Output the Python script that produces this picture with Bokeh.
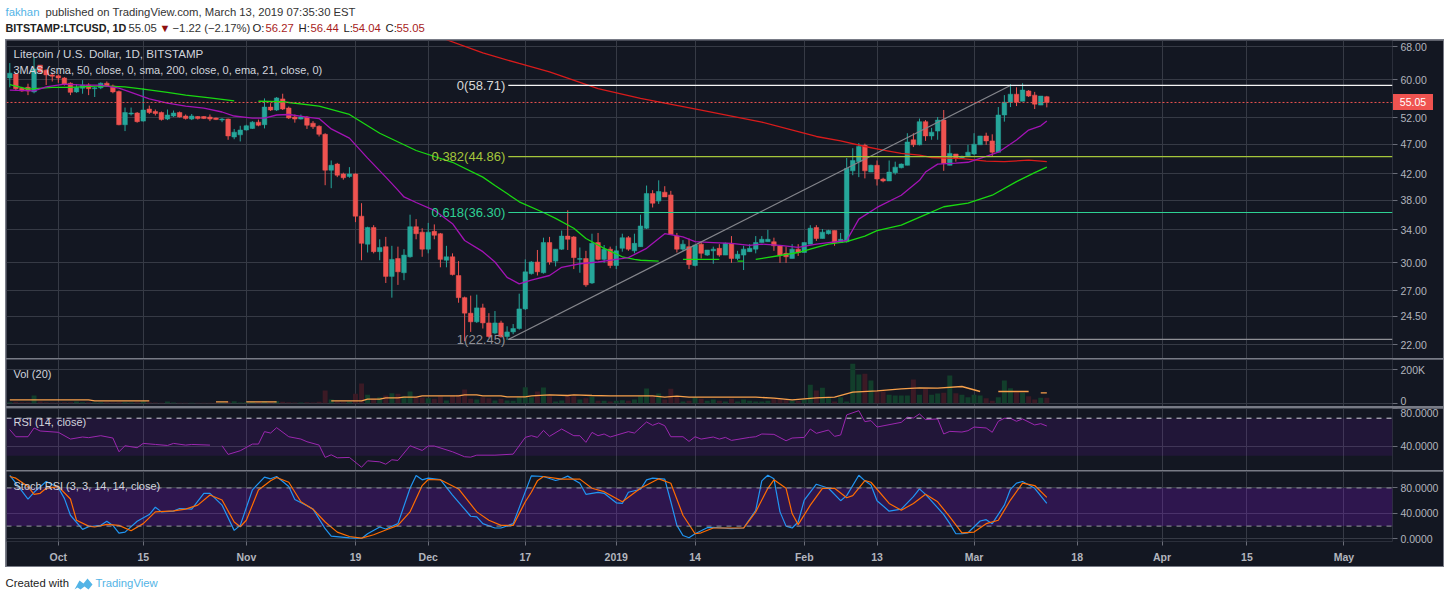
from bokeh.plotting import figure
from bokeh.models import (ColumnDataSource, Range1d, FixedTicker, NumeralTickFormatter, Label, Span,
                          BoxAnnotation, Column, Div)
from bokeh.embed import file_html
from bokeh.resources import INLINE

nan = float("nan")

# ---- daily candles, index 0 = 23 Sep 2018, index 171 = 13 Mar 2019
opens = [60.4,61.3,58.1,58.3,57.3,63.4,62.2,61.1,60.9,60.4,59.2,57.3,58.1,58.8,58.0,58.2,59.2,58.6,57.4,50.6,
         52.7,52.9,51.3,53.7,53.2,53.0,51.7,52.3,53.0,52.3,51.7,52.2,52.2,52.1,51.9,51.5,51.7,48.3,48.7,49.6,
         49.9,51.1,50.6,54.1,53.5,55.8,53.9,52.1,51.7,52.1,50.9,50.3,48.8,42.6,43.6,42.0,41.6,42.0,35.8,32.2,
         34.3,31.3,31.9,28.5,30.5,28.9,30.7,34.4,33.7,31.6,33.8,33.5,30.3,30.7,28.6,26.3,24.8,24.0,25.3,23.9,
         23.0,23.9,22.7,23.1,23.4,25.2,28.8,30.1,28.9,32.4,30.2,31.6,33.2,33.1,30.4,30.5,27.8,32.4,30.4,31.6,
         29.7,31.7,33.0,31.4,31.9,34.2,39.0,37.9,39.2,38.8,33.2,31.6,31.9,29.7,32.2,30.9,31.4,31.7,30.9,32.3,
         30.5,30.9,31.3,31.6,32.4,32.5,32.5,32.0,31.1,30.5,31.6,31.2,32.2,34.3,32.9,33.5,33.9,32.4,32.5,42.5,
         44.0,46.8,42.3,43.4,41.2,40.9,42.2,43.0,43.4,47.8,46.9,51.2,48.5,49.4,51.5,43.4,45.3,44.6,45.0,45.3,
         46.9,48.5,47.6,45.6,52.5,55.1,56.8,55.3,57.5,56.6,54.5,56.27]
highs = [63.9,61.5,58.4,59.1,65.4,63.4,62.4,61.6,61.2,60.6,59.4,59.0,59.9,59.2,58.4,59.4,59.6,58.9,57.6,54.0,
         54.0,53.1,58.1,54.4,53.6,53.2,53.6,53.4,53.2,52.6,52.7,52.3,52.3,52.6,52.0,51.9,51.8,49.8,50.4,50.6,
         51.3,51.6,55.9,54.9,56.2,56.9,54.2,52.6,52.6,52.3,51.3,50.5,49.0,44.2,43.8,42.2,43.1,42.1,37.6,34.4,
         34.6,32.8,33.1,32.0,31.9,31.6,36.0,35.4,34.2,34.9,34.7,33.6,32.0,31.1,30.2,26.4,26.5,26.6,25.7,24.8,
         25.0,24.1,23.6,23.8,26.7,30.4,30.2,31.5,33.0,33.1,31.6,33.9,36.6,33.2,31.8,31.4,33.5,33.6,32.1,31.9,
         32.0,33.5,33.2,33.5,36.0,40.2,39.5,41.0,40.1,39.4,33.6,32.7,32.9,32.1,32.5,31.5,31.9,32.2,32.4,33.2,
         31.4,32.0,32.2,33.2,33.2,34.0,33.0,32.0,31.9,32.2,32.2,32.4,34.6,34.6,34.1,34.0,33.9,33.6,44.6,46.3,
         47.2,47.1,43.5,44.2,41.4,44.2,44.0,43.7,49.0,49.0,51.8,51.5,50.0,52.1,53.5,46.9,45.3,45.0,46.9,49.0,
         48.5,49.1,48.8,54.1,56.6,59.0,58.3,59.2,57.7,57.3,56.4,56.44]
lows = [58.3,57.6,57.3,56.6,57.0,61.6,58.8,59.6,59.3,58.7,56.6,57.1,56.9,56.6,56.2,57.9,58.4,57.0,50.5,49.4,
        52.4,51.0,51.2,52.7,52.4,51.4,51.5,52.1,52.0,51.6,51.5,51.6,51.7,51.3,51.5,51.1,47.8,47.9,47.5,49.5,
        49.8,50.3,49.9,53.3,53.3,53.5,51.7,51.0,51.6,49.8,49.8,48.4,40.25,39.8,41.5,41.1,41.4,35.0,30.3,31.2,
        31.1,30.3,27.8,26.3,27.6,28.1,30.6,32.8,30.7,31.1,32.8,29.5,29.5,28.6,25.8,22.3,23.1,23.9,23.4,22.6,
        22.9,22.6,22.4,22.9,23.3,25.1,28.7,28.6,28.8,29.8,29.6,31.5,31.5,29.3,28.9,27.4,27.7,30.3,30.0,29.4,
        29.3,31.3,31.4,31.1,31.9,34.1,37.0,37.5,38.5,33.4,31.2,31.4,29.3,29.6,30.5,30.8,29.9,30.7,30.9,30.0,
        30.3,29.2,31.3,31.1,32.4,32.5,31.4,30.0,30.0,30.5,30.8,31.2,32.2,32.6,32.9,33.4,32.0,32.4,32.4,41.8,
        41.5,41.3,42.3,40.2,40.7,40.9,41.9,42.9,43.4,46.5,46.8,47.6,47.8,47.8,42.5,43.4,44.0,44.5,44.8,45.1,
        46.9,46.9,44.8,45.6,51.2,54.1,54.3,55.3,56.2,53.7,54.5,54.04]
closes = [61.5,58.0,57.5,57.5,62.5,61.8,61.1,60.8,60.4,59.0,57.2,58.3,58.8,58.0,58.2,59.2,58.6,57.3,50.6,53.0,
          52.9,51.2,53.5,53.0,52.8,51.6,52.5,52.9,52.1,51.8,52.3,51.8,51.8,51.7,51.6,51.7,48.5,49.2,49.6,50.4,
          51.1,50.5,54.1,53.5,56.0,53.7,51.9,51.7,52.1,50.5,50.2,48.8,42.6,43.4,41.8,41.4,42.0,35.8,32.3,34.3,
          31.3,31.8,28.5,30.4,29.0,30.9,34.4,33.5,31.6,33.7,33.3,30.4,30.7,28.7,26.3,24.8,24.0,25.3,23.9,22.7,
          23.9,22.7,23.1,23.4,25.2,29.0,30.1,29.0,32.4,30.1,31.6,33.2,32.8,30.6,30.5,27.6,32.3,30.4,31.6,29.7,
          31.4,33.0,31.6,32.3,34.5,39.0,37.6,39.3,38.5,33.4,31.6,32.2,29.8,32.1,31.1,31.5,31.6,30.9,32.3,30.5,
          31.0,31.6,31.7,32.4,32.8,32.8,32.0,30.9,30.7,31.6,31.2,32.4,34.2,32.9,33.7,33.9,32.4,32.8,42.9,44.2,
          46.6,42.5,43.4,41.2,40.9,42.3,43.1,43.6,47.4,46.9,51.2,48.5,49.2,51.5,43.7,45.4,44.6,44.9,45.6,47.0,
          48.5,47.6,45.6,52.5,55.1,56.8,55.1,57.7,56.4,54.7,56.4,55.05]
volumes_k = [6,8,6,6,46,10,6,4,4,5,6,10,6,5,4,6,5,4,6,5,4,5,12,5,4,3,10,4,3,3,3,3,3,2,3,4,10,12,4,6,8,4,12,4,12,8,5,4,4,5,4,8,
             76,22,10,6,10,56,118,50,26,36,46,60,56,42,70,36,34,30,26,42,16,46,50,82,26,22,36,30,16,26,16,14,36,96,
             36,70,94,42,10,16,50,42,22,30,38,14,14,10,14,18,14,22,42,88,42,58,22,86,42,10,14,36,26,14,22,14,10,26,
             10,22,14,10,10,14,26,30,22,14,14,22,110,76,92,36,10,36,10,236,172,176,136,70,70,50,46,46,46,142,50,86,50,58,62,166,
             60,50,36,50,46,30,14,36,136,90,66,62,42,22,32,32,8]

# ---- moving averages, read at selected days
ema_days = [0,4,6,9,12,15,18,20,23,26,29,32,35,37,40,42,44,46,49,51,53,56,59,62,64,65,67,70,73,75,78,80,82,84,86,89,91,94,97,100,
            102,105,108,111,113,116,119,122,124,127,130,133,135,138,140,143,147,150,151,153,156,158,161,163,166,168,170,171]
ema_vals = [57.7,57.5,58.4,59.0,58.8,58.8,58.1,57.2,55.8,54.9,54.3,53.9,53.1,52.3,51.9,51.9,52.5,52.6,52.1,51.8,49.8,48.1,44.6,41.5,39.5,38.5,37.7,36.6,34.8,32.65,31.3,30.1,28.4,27.7,28.1,28.6,29.5,29.9,30.1,30.4,
            30.6,31.7,33.5,33.1,32.5,32.4,32.3,32.05,32.2,32.05,31.8,32.2,32.4,32.65,35.4,37.0,38.75,41.0,42.3,43.6,43.75,43.9,44.9,45.6,47.75,49.6,50.4,51.3]
sma50_days = [0,3,7,10,15,19,22,26,29,33,37,38,41,45,51,56,61,67,73,78,80,82,84,88,90,93,95,98,101,103,104,107,108,111,117,118,120,121,122,123,127,130,133,135,138,141,143,147,151,154,158,162,166,169,171]
sma50_vals = [58.9,57.9,58.3,58.3,58.6,58.4,57.9,57.2,56.6,56.0,55.4,nan,55.3,55.2,54.3,52.6,49.0,45.9,43.9,41.5,40.2,39.0,37.8,36.3,35.5,34.2,32.9,31.7,30.7,30.4,30.3,30.2,nan,30.4,30.4,nan,30.2,30.2,nan,30.4,30.85,31.2,31.8,32.2,32.5,33.2,33.9,34.6,36.0,37.1,37.6,38.75,40.8,42.2,43.1]
sma200_days = [72,78,84,89,97,104,114,124,130,133,137,141,144,147,150,152,157,161,164,168,171]
sma200_vals = [69.8,66.4,63.8,61.8,58.0,55.9,53.5,51.1,49.3,48.4,47.6,46.6,45.95,45.4,45.1,44.7,44.5,44.1,44.0,44.25,44.0]

volma_days = [0,13,14,23,24,34,36,37,39,40,41,44,45,53,58,59,61,62,64,65,67,68,74,75,77,78,81,82,85,86,89,92,93,96,99,106,108,110,112,119,123,126,129,133,136,139,143,147,150,153,157,160,161,163,168,169,170,171]
volma_vals = [20,20,14,14,nan,8,8,nan,8,8,8,8,nan,14,14,24,24,32,32,36,36,44,44,50,50,44,44,38,38,44,50,46,50,46,44,44,36,42,36,36,36,30,20,32,36,66,74,86,92,90,100,70,nan,70,70,nan,62,62]

rsi_days = [0,1,3,4,5,8,10,12,13,15,17,18,19,21,22,24,26,27,29,30,33,34,35,36,38,40,41,42,43,44,46,48,49,51,52,53,54,56,58,59,61,62,63,64,66,68,69,70,73,75,76,77,80,83,85,
            86,87,88,89,91,93,94,95,96,97,98,99,102,103,105,106,107,108,109,111,112,113,114,116,117,118,119,122,123,124,126,128,129,131,132,133,135,136,137,138,140,141,142,143,147,148,149,150,151,153,154,155,157,158,159,161,162,163,164,165,166,167,169,170,171]
rsi_vals = [57.8,50.3,50.3,59.6,56.4,55.0,47.8,50.0,49.3,51.4,48.9,34.3,40.7,38.6,43.2,42.1,41.0,43.2,41.4,42.1,41.4,nan,40.7,31.5,35.4,42.5,42.5,55.7,54.2,59.9,50.3,47.8,45.0,41.4,28.3,31.1,27.9,28.3,17.9,24.7,23.6,21.1,25.8,25.1,40.7,35.7,40.4,40.4,34.3,29.0,28.6,30.7,30.7,31.8,49.6,
            51.4,49.6,57.0,50.7,58.5,51.4,51.4,44.3,54.9,51.4,53.2,50.0,55.7,54.2,66.0,62.4,64.9,62.0,50.3,50.3,45.3,50.3,47.8,50.0,47.8,49.6,46.4,49.6,50.3,53.2,52.8,46.0,48.9,49.6,58.5,53.9,57.4,50.7,52.1,73.5,78.0,66.3,67.4,60.6,65.6,71.0,70.2,74.5,68.5,69.2,53.2,56.0,55.3,56.7,60.6,59.6,55.0,66.7,69.9,69.9,66.7,69.2,62.8,64.2,61.7]

stoch_k_days = [0,1,3,4,6,8,9,10,12,13,15,16,17,18,19,21,23,24,25,27,28,30,32,33,35,37,38,40,42,43,44,46,47,49,50,52,53,56,58,59,61,62,64,66,67,68,69,71,73,76,77,78,80,81,83,86,88,90,91,92,94,95,97,98,100,101,102,104,105,106,108,109,110,111,112,113,115,116,119,121,123,124,125,126,127,128,129,130,131,133,135,137,138,140,141,142,143,145,147,149,150,151,154,155,156,157,158,160,161,162,164,165,166,167,169,171]
stoch_k_vals = [99.7,87.5,62.6,73.2,90.1,80.6,63.6,37.1,14.8,19,21.2,27.6,21,9,10.6,27.6,38.2,49.8,42.4,43.5,47.7,46.7,71.6,71.6,53,13.3,21.2,76.9,97,94.4,98,82.2,62,52,46.7,15.9,4.2,1.6,0.5,8,18.6,15.4,23.9,79.5,99.7,92.8,95.4,93.3,68.9,35.5,34.5,23.9,17,17,23.9,99,98,91.7,94.4,98.6,87.5,70,73.2,71.6,56.7,55.7,73.2,78,92.8,95.4,93.9,58.3,21.2,5.3,1.6,8,17.5,18,15.9,17,45,91.2,100,94.4,42.4,20,17,26.5,61,85.9,79.5,60,67.9,100,91.2,84.8,60,43.5,46.7,66.3,78.5,70,38.2,23.9,8,8,9.5,28.1,30.2,23.9,53,77.9,87.5,90.1,79.5,55.7]
stoch_d_days = [0,1,3,4,5,6,8,10,11,13,14,16,18,20,22,24,27,29,31,33,35,37,38,39,41,43,44,46,48,50,52,54,56,58,60,62,64,66,68,69,71,74,77,79,81,83,85,86,87,88,91,94,96,98,101,104,107,109,111,113,114,116,121,123,125,126,128,129,130,132,134,136,138,139,141,142,145,147,149,151,153,155,157,159,161,163,165,167,169,171]
stoch_d_vals = [98,95.4,82.2,70,71.6,79.5,82.2,62.6,29.2,20,18.6,22.8,21.2,12.7,23.9,42.4,44,46.7,53,68.9,61,26.5,19,29.2,76.9,91.2,96.5,89,58.3,46.7,26.5,10.6,3.7,1,6.4,13.8,21.2,42.4,83.8,93.3,92.8,78.5,42.4,29.2,21.2,21.2,58.3,73.2,91.2,98,93.9,93.9,79.5,74.2,58.3,79.5,94.4,87.5,37.1,8,9.5,17,17,42.4,79.5,92.8,79.5,39.8,22.3,53,79.5,79.5,64.7,67.9,91.7,89,55.7,45,55.7,70,58.3,34.5,9.5,10.6,23.9,29.2,61,87.5,83.8,65.2]

# ---- Fibonacci drawing
fib_levels = [58.71, 44.86, 36.30, 22.45]
fib_names = ["0(58.71)", "0.382(44.86)", "0.618(36.30)", "1(22.45)"]
fib_colors = ["#d8d8d8", "#a5c63b", "#2ed193", "#8f9096"]
fib_line_colors = ["#f5f5f5", "#a5c63b", "#2ed193", "#8f9096"]
fib_start_day = 82.2
fib_end_day = 165

# ---- axis ticks
time_tick_days = [8,22,39,57,69,85,100,113,131,143,159,176,190,204,220]
time_tick_labels = ["Oct","15","Nov","19","Dec","17","2019","14","Feb","13","Mar","18","Apr","15","May"]
price_ticks = [68,60,52,47,42,38,34,30,27,24.5,22]
vol_ticks = [200,0]
rsi_ticks = [80,40]
stoch_ticks = [80,40,0]
last_price = 55.05

BG = "#131722"; GRID = "#363a45"; TXT = "#b2b5be"; LEG = "#d1d4dc"; UP = "#26a69a"; DOWN = "#ef5350"
FONT = "Liberation Sans"
X_RANGE = (-0.544, 228.0)

def pane(h, y_rng, yticks, fmt, log=False, bottom=0, show_x=False):
    p = figure(width=1437, height=h, output_backend="svg", toolbar_location=None, y_axis_location="right",
               x_range=Range1d(*X_RANGE), y_range=Range1d(*y_rng), y_axis_type="log" if log else "linear",
               background_fill_color=BG, border_fill_color=BG, outline_line_color=None,
               min_border_left=0, min_border_right=51, min_border_top=0, min_border_bottom=bottom, margin=(1,1,0,1))
    p.xgrid.ticker = FixedTicker(ticks=time_tick_days)
    p.ygrid.ticker = FixedTicker(ticks=yticks)
    p.grid.grid_line_color = GRID
    p.grid.grid_line_width = 1
    p.xaxis.visible = show_x
    yax = p.yaxis[0]
    yax.ticker = FixedTicker(ticks=yticks)
    yax.formatter = fmt
    yax.axis_line_color = None
    yax.major_tick_line_color = "#6a6d78"
    yax.major_tick_out = 5
    yax.major_tick_in = 0
    yax.minor_tick_line_color = None
    yax.major_label_text_color = TXT
    yax.major_label_text_font = FONT
    yax.major_label_text_font_size = "10.5px"
    yax.major_label_standoff = 3
    if show_x:
        xax = p.xaxis[0]
        xax.ticker = FixedTicker(ticks=time_tick_days)
        xax.major_label_overrides = dict(zip(time_tick_days, time_tick_labels))
        xax.axis_line_color = None
        xax.major_tick_line_color = "#6a6d78"
        xax.major_tick_out = 4
        xax.major_tick_in = 0
        xax.minor_tick_line_color = None
        xax.major_label_text_color = TXT
        xax.major_label_text_font = FONT
        xax.major_label_text_font_size = "10.5px"
        xax.major_label_text_font_style = "bold"
        xax.major_label_standoff = 5
    return p

def legend(p, text, y_top_px, x_px=13, size="11px"):
    p.add_layout(Label(x=x_px-6, y=y_top_px, x_units="screen", y_units="screen", text=text, text_color=LEG,
                       text_font=FONT, text_font_size=size, text_baseline="middle"))

days = list(range(len(opens)))
ups = [c >= o for o, c in zip(opens, closes)]
src = ColumnDataSource(dict(x=days, o=opens, h=highs, l=lows, c=closes,
                            top=[max(a, b) for a, b in zip(opens, closes)],
                            bot=[min(a, b) for a, b in zip(opens, closes)],
                            col=[UP if u else DOWN for u in ups],
                            vol=volumes_k,
                            vcol=["#123e2b" if u else "#3b1a25" for u in ups]))

# ---------- header
head = figure(width=1450, height=39, output_backend="svg", toolbar_location=None, x_range=Range1d(0, 1450),
              y_range=Range1d(39, 0), background_fill_color="white", border_fill_color="white", outline_line_color=None,
              min_border=0, margin=0)
head.axis.visible = False
head.grid.visible = False
head.scatter([0], [0], size=0, alpha=0)
def htext(x, y, t, color="#333333", style="normal", size="11.3px"):
    head.add_layout(Label(x=x, y=y, text=t, text_color=color, text_font=FONT, text_font_size=size,
                          text_font_style=style, text_baseline="middle"))
htext(5, 11, "fakhan", "#53b4e6")
htext(45, 11, "published on TradingView.com, March 13, 2019 07:35:30 EST")
htext(5, 27, "BITSTAMP:LTCUSD, 1D", "#222222", "bold", "10.8px")
RED = "#a81c1c"
htext(128, 27, "55.05")
htext(159, 27, "▼", "#8e0f0f", size="11px")
htext(172, 27, "−1.22 (−2.17%)")
htext(252, 27, "O:", "#222222"); htext(265, 27, "56.27", RED)
htext(298, 27, "H:", "#222222"); htext(310, 27, "56.44", RED)
htext(343, 27, "L:", "#222222"); htext(352, 27, "54.04", RED)
htext(385, 27, "C:", "#222222"); htext(396, 27, "55.05", RED)

# ---------- price pane
p1 = pane(318, (20.89, 69.6), price_ticks, NumeralTickFormatter(format="0.00"), log=True)
p1.segment("x", "h", "x", "l", color="col", line_width=1, source=src)
p1.vbar("x", 0.76, "top", "bot", fill_color="col", line_color="col", line_width=0.5, source=src)
p1.line(sma200_days, sma200_vals, color="#d81b1b", line_width=1.3)
p1.line(sma50_days, sma50_vals, color="#19d811", line_width=1.3)
p1.line(ema_days, ema_vals, color="#a313b5", line_width=1.3)
p1.line([fib_start_day, fib_end_day], [fib_levels[3], fib_levels[0]], color="#85868c", line_width=1.3)
for lv, nm, colr, lcol in zip(fib_levels, fib_names, fib_colors, fib_line_colors):
    p1.line([fib_start_day, X_RANGE[1]], [lv, lv], color=lcol, line_width=1.2)
    p1.add_layout(Label(x=fib_start_day - 0.5, y=lv, text=nm, text_color=colr, text_align="right", text_baseline="middle",
                        text_font=FONT, text_font_size="13px"))
p1.add_layout(Span(location=last_price, dimension="width", line_color=DOWN, line_dash=[2, 2], line_width=1))
legend(p1, "Litecoin / U.S. Dollar, 1D, BITSTAMP", 305, size="11.6px")
legend(p1, "3MAS (sma, 50, close, 0, sma, 200, close, 0, ema, 21, close, 0)", 289)

# ---------- last-price tag, overlaid on the price axis
tag = Div(text=str(last_price), width=40, height=16, margin=0,
          styles={"position": "absolute", "left": "1388px", "top": "55px", "z-index": "5",
                  "background-color": DOWN, "color": "white", "font-family": FONT, "font-size": "10.5px",
                  "line-height": "16px", "text-align": "center"})

# ---------- volume pane
p2 = pane(47, (-20, 262), vol_ticks, NumeralTickFormatter(format="0"))
p2.yaxis[0].major_label_overrides = {200: "200K", 0: "0"}
p2.vbar("x", 0.82, "vol", 0, fill_color="vcol", line_color=None, source=src)
p2.line(volma_days, volma_vals, color="#f7a04b", line_width=1.3)
legend(p2, "Vol (20)", 33)

# ---------- RSI pane
p3 = pane(62, (14.4, 80.3), rsi_ticks, NumeralTickFormatter(format="0.0000"))
p3.margin = (2, 1, 0, 1)
p3.add_layout(BoxAnnotation(bottom=30, top=70, fill_color="#9915ff", fill_alpha=0.1, line_color=None, level="underlay"))
p3.add_layout(Span(location=70, dimension="width", line_color="#d1d4dc", line_dash=[5, 5], line_width=1))
p3.line(rsi_days, rsi_vals, color="#9c27b0", line_width=1)
legend(p3, "RSI (14, close)", 49)

# ---------- Stoch RSI pane
p4 = pane(95, (-4.2, 105.9), stoch_ticks, NumeralTickFormatter(format="0.0000"), bottom=25, show_x=True)
p4.margin = (1, 1, 1, 1)
p4.add_layout(BoxAnnotation(bottom=20, top=80, fill_color="#9915ff", fill_alpha=0.2, line_color=None, level="underlay"))
for lv in (80, 20):
    p4.add_layout(Span(location=lv, dimension="width", line_color="#9598a1", line_dash=[5, 5], line_width=1))
p4.line(stoch_k_days, stoch_k_vals, color="#2196f3", line_width=1.2)
p4.line(stoch_d_days, stoch_d_vals, color="#ff6d00", line_width=1.2)
legend(p4, "Stoch RSI (3, 3, 14, 14, close)", 56)

inner = Column(children=[p1, tag, p2, p3, p4], spacing=0, margin=(0, 6, 0, 5), styles={"background-color": "#787b86", "position": "relative"})

# ---------- footer
foot = figure(width=1450, height=32, output_backend="svg", toolbar_location=None, x_range=Range1d(0, 1450),
              y_range=Range1d(32, 0), background_fill_color="white", border_fill_color="white", outline_line_color=None,
              min_border=0, margin=0)
foot.axis.visible = False
foot.grid.visible = False
foot.scatter([0], [0], size=0, alpha=0)
foot.add_layout(Label(x=5, y=15, text="Created with", text_color="#222222", text_font=FONT, text_font_size="11.3px", text_baseline="middle"))
foot.add_layout(Label(x=95, y=15, text="TradingView", text_color="#53b4e6", text_font=FONT, text_font_size="11.3px", text_baseline="middle"))
foot.patch([74, 79, 83, 87, 92, 88, 84, 80, 77], [22, 13, 16, 11, 17, 22, 19, 22, 20], color="#53b4e6", line_width=0)

page = Column(children=[head, inner, foot], spacing=0, margin=0)
open("out.html", "w").write(file_html(page, INLINE))
